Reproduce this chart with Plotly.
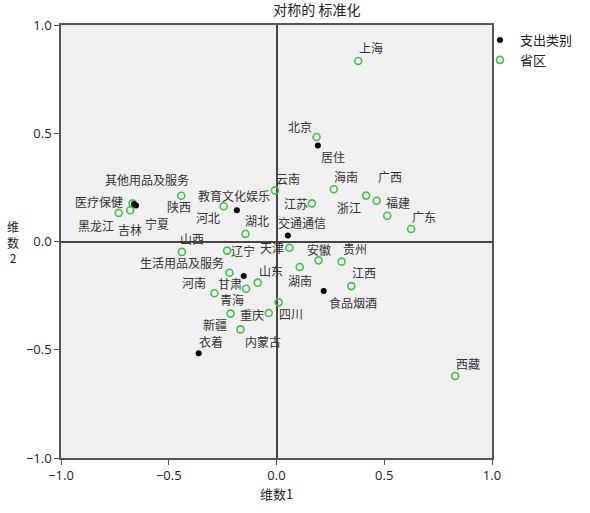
import plotly.graph_objects as go

# 省区 (provinces) - dimension 1 / dimension 2 scores
provinces = ["上海", "北京", "海南", "广西", "福建", "浙江", "广东", "江苏", "云南",
             "黑龙江", "吉林", "宁夏", "陕西", "河北", "湖北", "山西", "辽宁", "天津",
             "安徽", "贵州", "湖南", "江西", "山东", "河南", "甘肃", "青海", "四川",
             "新疆", "重庆", "内蒙古", "西藏"]
prov_dim1 = [0.379, 0.186, 0.266, 0.465, 0.514, 0.416, 0.625, 0.164, -0.007,
             -0.732, -0.679, -0.668, -0.442, -0.245, -0.144, -0.439, -0.229, 0.060,
             0.195, 0.302, 0.108, 0.347, -0.087, -0.288, -0.218, -0.141, 0.010,
             -0.213, -0.036, -0.167, 0.829]
prov_dim2 = [0.834, 0.483, 0.241, 0.188, 0.119, 0.212, 0.058, 0.176, 0.236,
             0.132, 0.144, 0.176, 0.211, 0.163, 0.035, -0.048, -0.042, -0.029,
             -0.087, -0.093, -0.118, -0.206, -0.190, -0.239, -0.144, -0.218, -0.281,
             -0.333, -0.330, -0.406, -0.621]

# 支出类别 (expenditure categories)
categories = ["其他用品及服务", "医疗保健", "教育文化娱乐", "居住", "交通通信",
              "生活用品及服务", "食品烟酒", "衣着"]
cat_dim1 = [-0.652, -0.661, -0.184, 0.192, 0.053, -0.152, 0.219, -0.361]
cat_dim2 = [0.166, 0.173, 0.144, 0.443, 0.028, -0.159, -0.229, -0.516]

# label offsets in pixels (dx, dy up)
label_shift = {
    "上海": (13, 13), "北京": (-17, 10), "海南": (12, 13), "广西": (13, 24),
    "福建": (11, 13), "浙江": (-17, -12), "广东": (13, 12), "江苏": (-16, 0),
    "云南": (13, 12), "黑龙江": (-23, -13), "吉林": (0, -19), "宁夏": (24, -20),
    "陕西": (-2, -11), "河北": (-16, -11), "湖北": (12, 13), "山西": (10, 13),
    "辽宁": (16, 0), "天津": (-17, 0), "安徽": (0, 11), "贵州": (13, 13),
    "湖南": (0, -13), "江西": (13, 14), "山东": (13, 12), "河南": (-20, 11),
    "甘肃": (0, -11), "青海": (-14, -11), "四川": (12, -11), "新疆": (-16, -11),
    "重庆": (-17, -2), "内蒙古": (22, -12), "西藏": (13, 12),
    "其他用品及服务": (11, 26), "医疗保健": (-35, 3), "教育文化娱乐": (-3, 15),
    "居住": (15, -11), "交通通信": (14, 13), "生活用品及服务": (-62, 13),
    "食品烟酒": (29, -11), "衣着": (12, 12),
}

CJK = "Noto Sans CJK SC"

fig = go.Figure()
fig.add_trace(go.Scatter(
    x=prov_dim1, y=prov_dim2, mode="markers", name="省区",
    marker=dict(symbol="circle-open", color="#45c04f", size=7, line=dict(width=1.6)),
))
fig.add_trace(go.Scatter(
    x=cat_dim1, y=cat_dim2, mode="markers", name="支出类别",
    marker=dict(color="black", size=6),
))

annotations = []
for names, xs, ys in [(provinces, prov_dim1, prov_dim2), (categories, cat_dim1, cat_dim2)]:
    for n, xv, yv in zip(names, xs, ys):
        dx, dy = label_shift[n]
        annotations.append(dict(x=xv, y=yv, text=n, showarrow=False, xshift=dx, yshift=dy,
                                font=dict(family=CJK, size=12, color="#333333")))

# vertical y-axis title, characters stacked
annotations.append(dict(x=0, xref="paper", y=0.5, yref="paper", xanchor="center",
                        text="维<br>数<br>2", showarrow=False, xshift=-48,
                        font=dict(family=CJK, size=12, color="#222222")))

fig.update_layout(
    width=590, height=513,
    margin=dict(l=61, r=98, t=25, b=55),
    paper_bgcolor="white", plot_bgcolor="#f0f0f0",
    title=dict(text="对称的 标准化", x=0.537, xanchor="center", y=0.98, yanchor="middle",
               font=dict(family=CJK, size=14, color="#222222")),
    legend=dict(x=0.972, y=1.0, xanchor="left", yanchor="top", traceorder="reversed",
                font=dict(family=CJK, size=13, color="#222222"), itemwidth=30,
                bgcolor="rgba(0,0,0,0)", tracegroupgap=0),
    annotations=annotations,
    showlegend=True,
)
axis_style = dict(range=[-1, 1], dtick=0.5, tickformat=".1f", showgrid=False,
                  zeroline=True, zerolinecolor="#444444", zerolinewidth=1.5,
                  showline=True, linecolor="#555555", linewidth=1.5, mirror=True,
                  ticks="outside", ticklen=5, tickcolor="#555555", automargin=False,
                  tickfont=dict(family="Open Sans", size=13, color="#222222"))
fig.update_xaxes(**axis_style, title=dict(text="维数1", font=dict(family=CJK, size=13, color="#222222"),
                                          standoff=6))
fig.update_yaxes(**axis_style)

fig.write_html("out.html", config={"displayModeBar": False},
               post_script="document.body.style.margin='0';")
